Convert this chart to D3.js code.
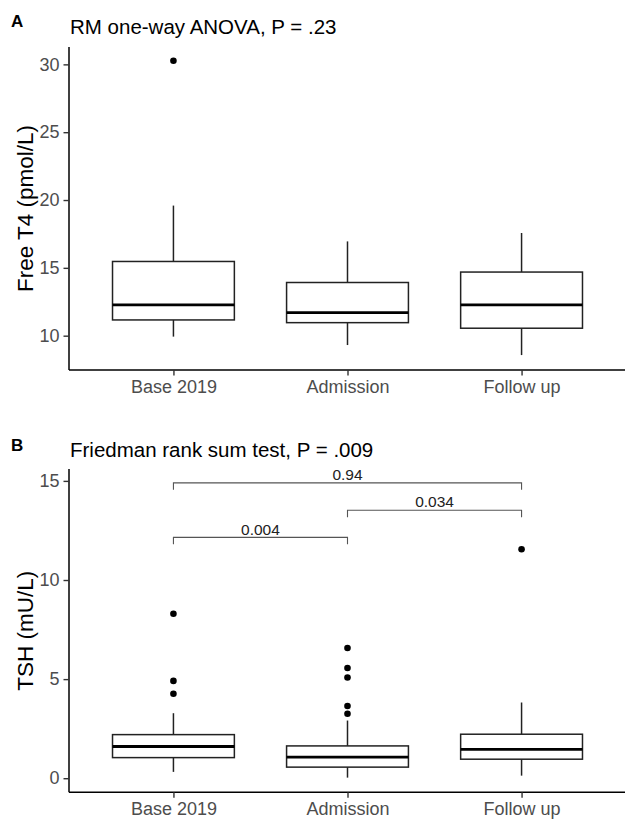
<!DOCTYPE html>
<html>
<head>
<meta charset="utf-8">
<script src="https://cdn.jsdelivr.net/npm/d3@7"></script>
<style>
  html, body { margin: 0; padding: 0; background: #fff; }
  svg { display: block; font-family: "Liberation Sans", Arial, Helvetica, sans-serif; }
</style>
</head>
<body>
<svg id="chart" width="625" height="819"></svg>
<script>
// ---------- DATA ----------
const categories = ["Base 2019", "Admission", "Follow up"];

// Panel A: Free T4 (pmol/L) – [lower whisker, Q1, median, Q3, upper whisker]
const ft4Lower   = [9.93, 9.31, 8.57];
const ft4Q1      = [11.16, 10.96, 10.55];
const ft4Median  = [12.27, 11.70, 12.27];
const ft4Q3      = [15.47, 13.92, 14.69];
const ft4Upper   = [19.59, 16.95, 17.57];
const ft4Outliers = [[30.27], [], []];
const ft4Ticks = [10, 15, 20, 25, 30];

// Panel B: TSH (mU/L)
const tshLower   = [0.32, 0.03, 0.13];
const tshQ1      = [1.04, 0.56, 0.96];
const tshMedian  = [1.60, 1.06, 1.46];
const tshQ3      = [2.20, 1.63, 2.22];
const tshUpper   = [3.28, 2.91, 3.82];
const tshOutliers = [[8.30, 4.91, 4.26], [6.57, 5.56, 5.08, 3.64, 3.25], [11.55]];
const tshTicks = [0, 5, 10, 15];

// Pairwise comparison brackets
const bracketFrom  = ["Base 2019", "Admission", "Base 2019"];
const bracketTo    = ["Admission", "Follow up", "Follow up"];
const bracketY     = [12.15, 13.52, 14.9];
const bracketLabel = ["0.004", "0.034", "0.94"];

const titleA = "RM one-way ANOVA, P = .23";
const titleB = "Friedman rank sum test, P = .009";
const yTitleA = "Free T4 (pmol/L)";
const yTitleB = "TSH (mU/L)";

// ---------- DRAW ----------
const svg = d3.select("#chart");
const xLeft = 69, xRight = 626;

function panel(opts) {
  const g = svg.append("g");
  const x = d3.scalePoint().domain(categories).range([xLeft, xRight]).padding(0.6);
  const y = d3.scaleLinear().domain(opts.domain).range([opts.bottom, opts.top]);
  const bw = x.step() * 0.7;

  // panel tag
  g.append("text").attr("x", 11).attr("y", opts.tagY)
    .attr("font-size", 17).attr("font-weight", "bold").attr("fill", "#000").text(opts.tag);
  // title
  g.append("text").attr("x", 70).attr("y", opts.titleY)
    .attr("font-size", 20.5).attr("fill", "#000").text(opts.title);

  // boxes
  const stats = categories.map((c, i) => ({
    c, lo: opts.lower[i], q1: opts.q1[i], med: opts.median[i], q3: opts.q3[i], hi: opts.upper[i], out: opts.outliers[i]
  }));
  const bg = g.append("g");
  stats.forEach(s => {
    const cx = x(s.c);
    bg.append("line").attr("x1", cx).attr("x2", cx).attr("y1", y(s.q3)).attr("y2", y(s.hi))
      .attr("stroke", "#222").attr("stroke-width", 1.5);
    bg.append("line").attr("x1", cx).attr("x2", cx).attr("y1", y(s.q1)).attr("y2", y(s.lo))
      .attr("stroke", "#222").attr("stroke-width", 1.5);
    bg.append("rect").attr("x", cx - bw / 2).attr("width", bw)
      .attr("y", y(s.q3)).attr("height", y(s.q1) - y(s.q3))
      .attr("fill", "#fff").attr("stroke", "#222").attr("stroke-width", 1.5);
    bg.append("line").attr("x1", cx - bw / 2).attr("x2", cx + bw / 2)
      .attr("y1", y(s.med)).attr("y2", y(s.med))
      .attr("stroke", "#000").attr("stroke-width", 2.8);
    s.out.forEach(v => {
      bg.append("circle").attr("cx", cx).attr("cy", y(v)).attr("r", 3.3).attr("fill", "#000");
    });
  });

  // brackets
  if (opts.brackets) {
    const tip = 0.35;
    bracketLabel.forEach((lab, i) => {
      const x1 = x(bracketFrom[i]), x2 = x(bracketTo[i]), yy = y(bracketY[i]), yt = y(bracketY[i] - tip);
      g.append("path")
        .attr("d", `M${x1},${yt}V${yy}H${x2}V${yt}`)
        .attr("fill", "none").attr("stroke", "#555").attr("stroke-width", 1.1);
      g.append("text").attr("x", (x1 + x2) / 2).attr("y", yy - 2.8)
        .attr("text-anchor", "middle").attr("font-size", 15.5).attr("fill", "#222").text(lab);
    });
  }

  // axes
  const yAxis = g.append("g").attr("transform", `translate(${xLeft},0)`)
    .call(d3.axisLeft(y).tickValues(opts.ticks).tickSize(5.5).tickPadding(4).tickFormat(d3.format("d")));
  yAxis.select(".domain").attr("d", `M0,${opts.top}V${opts.bottom}`).attr("stroke", "#000").attr("stroke-width", 1.5);
  yAxis.selectAll(".tick line").attr("stroke", "#333").attr("stroke-width", 1.4);
  yAxis.selectAll(".tick text").attr("font-size", 18).attr("fill", "#4d4d4d")
    .attr("font-family", "Liberation Sans, Arial, sans-serif");

  const xAxis = g.append("g").attr("transform", `translate(0,${opts.bottom})`)
    .call(d3.axisBottom(x).tickSize(5.5).tickPadding(4.5));
  xAxis.select(".domain").attr("d", `M${xLeft},0H${xRight}`).attr("stroke", "#000").attr("stroke-width", 1.5);
  xAxis.selectAll(".tick line").attr("stroke", "#333").attr("stroke-width", 1.4);
  xAxis.selectAll(".tick text").attr("font-size", 18).attr("fill", "#4d4d4d")
    .attr("font-family", "Liberation Sans, Arial, sans-serif");

  // y title
  g.append("text")
    .attr("transform", `translate(33,${(opts.top + opts.bottom) / 2}) rotate(-90)`)
    .attr("text-anchor", "middle").attr("font-size", 22.5).attr("fill", "#000").text(opts.yTitle);
}

panel({
  tag: "A", tagY: 27.3, title: titleA, titleY: 34.3,
  domain: [7.47, 31.28], top: 47, bottom: 370,
  lower: ft4Lower, q1: ft4Q1, median: ft4Median, q3: ft4Q3, upper: ft4Upper, outliers: ft4Outliers,
  ticks: ft4Ticks, yTitle: yTitleA, brackets: false
});
panel({
  tag: "B", tagY: 450.7, title: titleB, titleY: 456.7,
  domain: [-0.71, 15.6], top: 469, bottom: 792.3,
  lower: tshLower, q1: tshQ1, median: tshMedian, q3: tshQ3, upper: tshUpper, outliers: tshOutliers,
  ticks: tshTicks, yTitle: yTitleB, brackets: true
});
</script>
</body>
</html>
